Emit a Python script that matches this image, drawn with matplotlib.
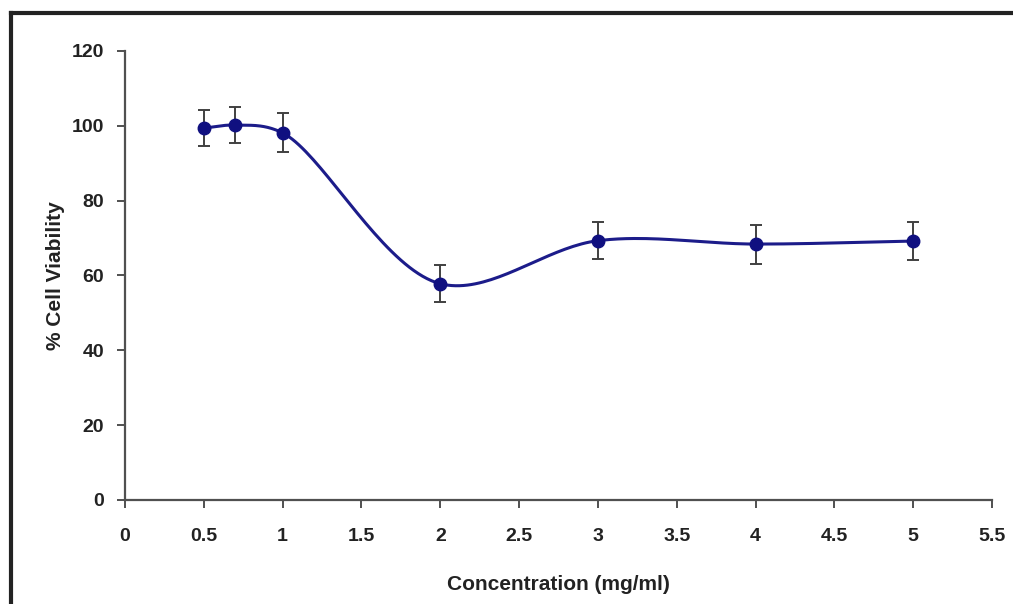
import numpy as np
import matplotlib.pyplot as plt
from matplotlib.lines import Line2D

# Data
concentration = [0.5, 0.7, 1.0, 2.0, 3.0, 4.0, 5.0]
viability = [99.4, 100.2, 98.1, 57.8, 69.3, 68.4, 69.2]
error = [4.8, 4.9, 5.2, 4.9, 5.0, 5.2, 5.0]

x_ticks = [0, 0.5, 1, 1.5, 2, 2.5, 3, 3.5, 4, 4.5, 5, 5.5]
x_labels = ["0", "0.5", "1", "1.5", "2", "2.5", "3", "3.5", "4", "4.5", "5", "5.5"]
y_ticks = [0, 20, 40, 60, 80, 100, 120]

plt.rcParams['font.family'] = ['Liberation Sans', 'DejaVu Sans']
plt.rcParams['font.weight'] = 'bold'

fig = plt.figure(figsize=(10.13, 6.04), dpi=100)
ax = fig.add_axes([0.1234, 0.1722, 0.8559, 0.7434])

ax.set_xlim(0, 5.5)
ax.set_ylim(0, 120)


# smoothed line: centripetal Catmull-Rom spline in display space
def catmull_rom(p0, p1, p2, p3, n=40, alpha=0.5):
    def tj(ti, a, b):
        return ti + np.linalg.norm(b - a) ** alpha
    t0 = 0.0
    t1 = tj(t0, p0, p1) if not np.allclose(p0, p1) else t0 + 1e-6
    t2 = tj(t1, p1, p2)
    t3 = tj(t2, p2, p3) if not np.allclose(p2, p3) else t2 + 1e-6
    t = np.linspace(t1, t2, n)[:, None]
    a1 = (t1 - t) / (t1 - t0) * p0 + (t - t0) / (t1 - t0) * p1
    a2 = (t2 - t) / (t2 - t1) * p1 + (t - t1) / (t2 - t1) * p2
    a3 = (t3 - t) / (t3 - t2) * p2 + (t - t2) / (t3 - t2) * p3
    b1 = (t2 - t) / (t2 - t0) * a1 + (t - t0) / (t2 - t0) * a2
    b2 = (t3 - t) / (t3 - t1) * a2 + (t - t1) / (t3 - t1) * a3
    return (t2 - t) / (t2 - t1) * b1 + (t - t1) / (t2 - t1) * b2


pts = ax.transData.transform(np.column_stack([concentration, viability]))
p = np.vstack([2 * pts[0] - pts[1], pts, 2 * pts[-1] - pts[-2]])
curve = np.vstack([catmull_rom(p[i - 1], p[i], p[i + 1], p[i + 2]) for i in range(1, len(p) - 2)])
curve = ax.transData.inverted().transform(curve)

ax.plot(curve[:, 0], curve[:, 1], color='#1c1c8a', lw=2.2, zorder=3)
ax.errorbar(concentration, viability, yerr=error, fmt='none', ecolor='#404040',
            elinewidth=1.4, capsize=4.5, capthick=1.4, zorder=2)
ax.plot(concentration, viability, 'o', color='#101080', ms=9, zorder=4)

ax.set_xticks(x_ticks)
ax.set_xticklabels(x_labels)
ax.set_yticks(y_ticks)
ax.tick_params(direction='out', length=6, width=1.4, colors='#505050',
               labelcolor='#222222', labelsize=14)
ax.tick_params(axis='y', pad=9)
ax.tick_params(axis='x', pad=14)
for lab in ax.get_xticklabels() + ax.get_yticklabels():
    lab.set_fontweight('bold')

for side in ['top', 'right']:
    ax.spines[side].set_visible(False)
for side in ['left', 'bottom']:
    ax.spines[side].set_color('#505050')
    ax.spines[side].set_linewidth(1.6)

ax.set_xlabel('Concentration (mg/ml)', fontsize=15, fontweight='bold', color='#222222', labelpad=22)
ax.set_ylabel('% Cell Viability', fontsize=15, fontweight='bold', color='#222222', labelpad=5)

# outer frame (only top and left edges visible)
fig.add_artist(Line2D([11 / 1013, 1], [1 - 13 / 604, 1 - 13 / 604], color='#222222', lw=3,
                      transform=fig.transFigure))
fig.add_artist(Line2D([11 / 1013, 11 / 1013], [0, 1 - 13 / 604], color='#222222', lw=3,
                      transform=fig.transFigure))

fig.savefig('out.png', dpi=100)
